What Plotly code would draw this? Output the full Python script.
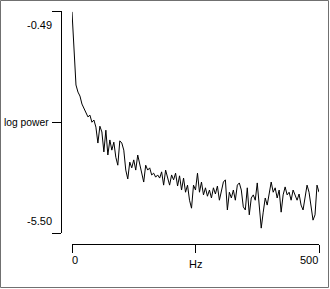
import numpy as np
import plotly.graph_objects as go

# log power spectrum, 0..500 Hz
power = [
    -0.51, -1.42, -2.16, -2.32, -2.41, -2.59, -2.68, -2.77, -2.88, -2.84,
    -3.00, -2.95, -3.11, -3.47, -3.09, -3.22, -3.67, -3.18, -3.74, -3.40,
    -3.63, -3.45, -3.79, -3.97, -3.42, -3.47, -3.63, -4.08, -4.28, -3.90,
    -4.03, -3.85, -4.08, -3.74, -3.97, -4.12, -4.35, -3.97, -4.08, -4.03,
    -4.19, -4.15, -4.24, -4.19, -4.26, -4.12, -4.42, -4.08, -4.26, -4.42,
    -4.19, -4.30, -4.15, -4.44, -4.21, -4.53, -4.26, -4.58, -4.42, -4.76,
    -4.94, -4.42, -4.53, -4.15, -4.58, -4.35, -4.64, -4.48, -4.67, -4.53,
    -4.71, -4.48, -4.62, -4.44, -4.76, -4.53, -4.35, -4.30, -4.98, -4.58,
    -4.71, -4.53, -4.76, -4.42, -4.37, -4.53, -4.91, -4.98, -4.48, -5.09,
    -4.71, -4.64, -4.76, -4.37, -4.87, -5.39, -5.03, -4.71, -4.87, -4.64,
    -4.35, -4.58, -4.48, -4.71, -4.53, -5.03, -4.64, -4.46, -4.64, -4.58,
    -4.76, -4.53, -4.67, -4.76, -4.62, -4.87, -4.98, -4.64, -4.42, -4.58,
    -4.94, -5.21, -5.09, -4.42, -4.58,
]
freq_max = 500
freqs = np.linspace(0, freq_max, len(power))

y_min, y_max = -5.50, -0.49
y_tick_labels = ["-0.49", "log power", "-5.50"]
x_tick_labels = ["0", "Hz", "500"]

W, H = 330, 289
FONT = dict(family="Liberation Sans, Arial, sans-serif", size=11, color="black")
FONT_NARROW = dict(family="Liberation Sans, Arial, sans-serif", size=10.3, color="black")

def px(x):
    return x / W

def py(y):
    return 1 - y / H

fig = go.Figure()
fig.add_trace(go.Scatter(x=freqs, y=power, mode="lines",
                         line=dict(color="black", width=1),
                         hoverinfo="skip", showlegend=False))

fig.update_layout(
    width=W, height=H,
    margin=dict(l=0, r=0, t=0, b=0),
    paper_bgcolor="white", plot_bgcolor="white",
    showlegend=False,
    xaxis=dict(domain=[px(72), px(319)], range=[0, freq_max],
               anchor="free", position=py(244),
               showline=True, linecolor="black", linewidth=1,
               ticks="outside", ticklen=8, tickcolor="black", tickwidth=1,
               tickvals=[0, freq_max / 2, freq_max], showticklabels=False,
               showgrid=False, zeroline=False, fixedrange=True),
    yaxis=dict(domain=[py(233), py(11)], range=[y_min, y_max],
               anchor="free", position=px(61),
               showline=True, linecolor="black", linewidth=1,
               ticks="outside", ticklen=9, tickcolor="black", tickwidth=1,
               tickvals=[y_min, (y_min + y_max) / 2, y_max], showticklabels=False,
               showgrid=False, zeroline=False, fixedrange=True),
)

ann = [
    (y_tick_labels[0], px(54), py(25), "right", "middle", FONT),
    (y_tick_labels[1], px(51), py(122), "right", "middle", FONT_NARROW),
    (y_tick_labels[2], px(54), py(221), "right", "middle", FONT),
    (x_tick_labels[0], px(70), py(259.5), "left", "middle", FONT),
    (x_tick_labels[1], px(195), py(264), "center", "middle", FONT),
    (x_tick_labels[2], px(320), py(259.5), "right", "middle", FONT),
]
for text, x, y, xa, ya, f in ann:
    fig.add_annotation(text=text, x=x, y=y, xref="paper", yref="paper",
                       xanchor=xa, yanchor=ya, showarrow=False, font=f)

fig.add_shape(type="rect", xref="paper", yref="paper",
              x0=px(0.5), x1=px(328.5), y0=py(287.5), y1=py(0.5),
              line=dict(color="#707070", width=1))

fig.write_html("out.html", config={"displayModeBar": False})
